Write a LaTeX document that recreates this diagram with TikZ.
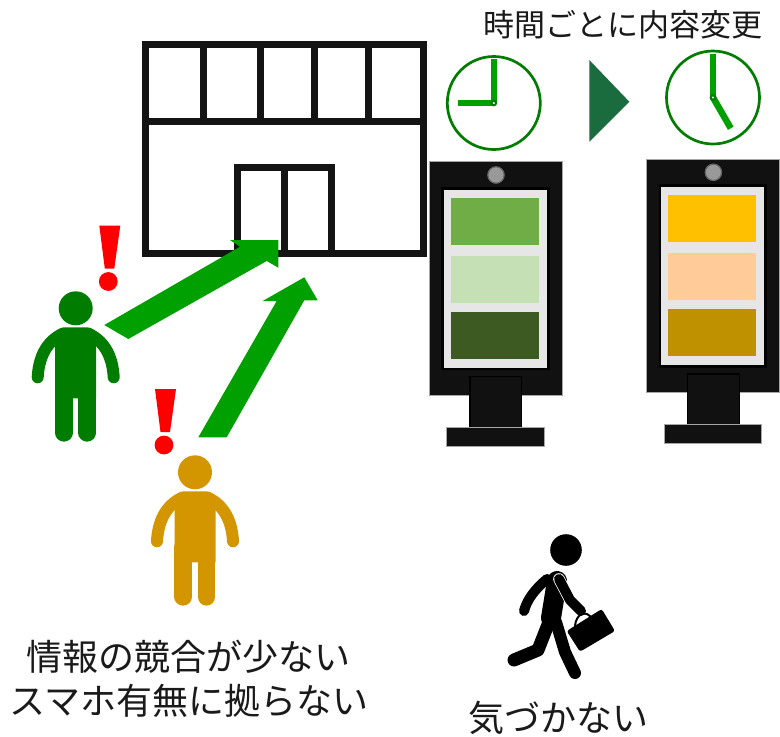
\documentclass[tikz,border=0pt]{standalone}
\usepackage{fontspec}
\setmainfont{Noto Sans CJK JP}
\definecolor{wall}{HTML}{141414}
\definecolor{pgreen}{HTML}{007D00}
\definecolor{porange}{HTML}{D39600}
\definecolor{agreen}{HTML}{00A000}
\definecolor{tridark}{HTML}{1A6B3E}
\definecolor{signbody}{HTML}{111111}
\definecolor{screenbg}{HTML}{E6E6E6}
\definecolor{txt}{HTML}{1A1A1A}
\definecolor{gA}{HTML}{70AD47}
\definecolor{gB}{HTML}{C5E0B4}
\definecolor{gC}{HTML}{3D5A23}
\definecolor{yA}{HTML}{FFC000}
\definecolor{yB}{HTML}{FFCC99}
\definecolor{yC}{HTML}{BF9000}
\tikzset{
  wallline/.style={draw=wall, line width=7pt},
  blockarrow/.style={fill=agreen},
  label/.style={text=txt, inner sep=0pt},
  pics/person/.style={code={
    \fill[#1] (0,0) circle (17);
    \fill[#1] (-20.5,90) [rounded corners=9]-- (-20.5,19) -- (20.5,19) [sharp corners]-- (20.5,90) -- cycle;
    \draw[#1, line width=12pt, line cap=round] (-14,26) .. controls (-30,34) and (-37,50) .. (-38,69);
    \draw[#1, line width=12pt, line cap=round] (14,26) .. controls (30,34) and (37,50) .. (38,69);
    \draw[#1, line width=17.7pt, line cap=round] (-11.8,75) -- (-11.8,124.5);
    \draw[#1, line width=17.7pt, line cap=round] (11.5,75) -- (11.5,124.5);
  }},
  pics/alert/.style={code={
    \fill[red] (-9,-56) -- (12,-56) -- (6,-13) -- (-3.5,-13) -- cycle;
    \fill[red] (0,0) circle (9.4);
  }},
  pics/signage/.style n args={3}{code={
    \filldraw[fill=signbody, draw=gray!70, line width=0.6pt] (0,0) rectangle (133,233.3);
    \filldraw[fill=signbody, draw=black, line width=1.2pt] (40.7,215) rectangle (92.4,265.6);
    \filldraw[fill=signbody, draw=gray!70, line width=0.6pt] (17.4,265.6) rectangle (114.7,284.3);
    \filldraw[fill=gray!80, draw=gray!120, line width=1.2pt] (66.7,13.3) circle (8.2);
    \filldraw[fill=screenbg, draw=black, line width=2.5pt] (13.4,26.6) rectangle (119,207.3);
    \fill[#1] (21.7,36) rectangle (109.7,83.3);
    \fill[#2] (21.7,94.3) rectangle (109.7,141);
    \fill[#3] (21.7,150.3) rectangle (109.7,197.3);
  }},
  pics/clock/.style={code={
    \draw[pgreen, line width=2.7pt] (0,0) circle (46.5);
    \draw[agreen, line width=5.7pt] (0,0) -- (-90:44);
    \draw[agreen, line width=6.5pt] (0,0) -- (#1:35.5);
    \fill[pgreen] (0,0) circle (3.4);
    \fill[white] (0,0) circle (1.2);
  }},
}
\begin{document}
\begin{tikzpicture}[x=1pt, y=-1pt]
\useasboundingbox (0,0) rectangle (780,737);
\fill[white] (0,0) rectangle (780,737);

% shop front
\draw[wallline] (145.5,44) rectangle (423,253);
\draw[wallline] (145.5,121) -- (423,121);
\foreach \px in {203,260,314,368.5} \draw[wallline] (\px,44) -- (\px,121);
\draw[wallline] (237.5,167) rectangle (331.5,253);
\draw[wallline] (284.5,167) -- (284.5,253);
\coordinate (door) at (284.5,253);

% passers-by noticing the shop
\pic (p1) at (75.7,308.3) {person=pgreen};
\pic (p2) at (195,472.3) {person=porange};
\pic (x1) at (108.3,281.5) {alert};
\pic (x2) at (164,445) {alert};

% arrows from the passers-by to the entrance
\fill[blockarrow] (104.3,325) -- (240,246.7) -- (230,240) -- (278.3,240)
  -- (278.3,267.7) -- (266.7,261) -- (128.3,339) -- cycle;
\fill[blockarrow] (198.3,437.3) -- (276.7,301) -- (262.7,301) -- (304.3,277.3)
  -- (317.7,300.3) -- (304.3,300.3) -- (226.7,437.3) -- cycle;

% clocks and transition mark
\pic (c1) at (493.8,103) {clock=180};
\pic (c2) at (713,97.5) {clock=60};
\fill[tridark] (589.3,60) -- (629.3,101.7) -- (589.3,141.7) -- cycle;

% digital signage, before and after
\pic (s1) at (429.3,161.7) {signage={gA}{gB}{gC}};
\pic (s2) at (646.7,159) {signage={yA}{yB}{yC}};

% walking man with briefcase
\begin{scope}[black, line cap=round, line join=round]
  \fill (566,550) circle (15.8);
  \draw[line width=20pt] (557,581) -- (551,618);
  \draw[line width=10pt] (547,579) .. controls (534,590) and (527,600) .. (524,611);
  \draw[line width=13pt] (549,622) -- (538,650) -- (514,660);
  \draw[line width=12pt] (556,622) -- (565,652) -- (575,673);
  \draw[white, line width=11.6pt] (559,579) -- (570,600) -- (581,611);
  \draw[line width=10pt] (559,579) -- (570,600) -- (581,611);
  \fill[rounded corners=2.5pt] (566.7,631) -- (601.7,609) -- (615,631) -- (580,651.7) -- cycle;
  \draw[line width=2pt] (575,626) .. controls (576,614) and (586,608) .. (593,620);
\end{scope}

% captions
\node[label, font=\fontsize{31}{37}\selectfont] (title) at (623,25) {時間ごとに内容変更};
\node[label, font=\fontsize{36}{44}\selectfont, align=center] (msg) at (189,679)
  {情報の競合が少ない\\スマホ有無に拠らない};
\node[label, font=\fontsize{36}{44}\selectfont] (miss) at (558,718) {気づかない};
\end{tikzpicture}
\end{document}
